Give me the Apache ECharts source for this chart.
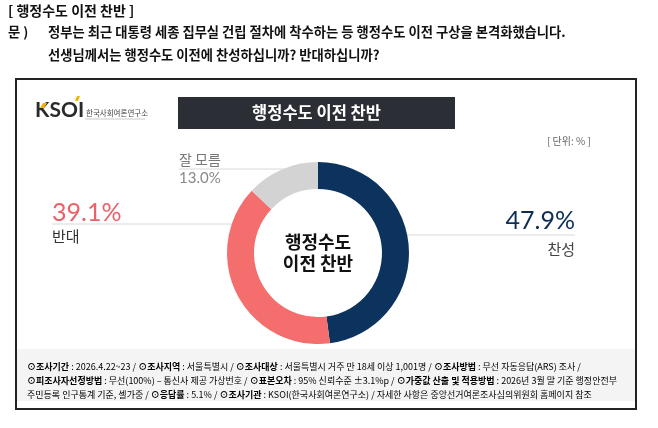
<!DOCTYPE html>
<html><head><meta charset="utf-8">
<script src="https://cdn.jsdelivr.net/npm/echarts@6/dist/echarts.min.js"></script>
<style>html,body{margin:0;padding:0;background:#fff}#c{width:658px;height:428px}</style>
</head><body><div id="c"></div>
<script>
const categories = ['찬성', '반대', '잘 모름'];
const values = [47.9, 39.1, 13.0];
const colors = ['#0c335d', '#f36e6c', '#d3d3d3'];
const chartTitle = '행정수도 이전 찬반';
const centerText = '행정수도\n이전 찬반';
const headTitle = '[ 행정수도 이전 찬반 ]';
const question1 = '정부는 최근 대통령 세종 집무실 건립 절차에 착수하는 등 행정수도 이전 구상을 본격화했습니다.';
const question2 = '선생님께서는 행정수도 이전에 찬성하십니까? 반대하십니까?';
const unitText = '[ 단위: % ]';

const KR = '"Noto Sans CJK KR", "Noto Sans", sans-serif';
const NUM = 'Lato, "Noto Sans", sans-serif';
const CX = 318, CY = 253, R0 = 64, R1 = 91;

// label anchor layout (position only)
const labelPos = [
  { x: 575, y: 235, align: 'right', line: [CX + Math.sqrt(R1*R1 - 18*18) - 2, 575] },
  { x: 52, y: 224, align: 'left', line: [52, CX - Math.sqrt(R1*R1 - 29*29) + 2] },
  { x: 179, y: 169, align: 'left', line: [179, CX - Math.sqrt(R1*R1 - 84*84) + 2] }
];

function fmtLabel(p) {
  const v = values[p.dataIndex].toFixed(1) + '%';
  const n = categories[p.dataIndex];
  if (p.dataIndex === 2) return '{n2|' + n + '}\n{v2|' + v + '}';
  return '{v' + p.dataIndex + '|' + v + '}\n{n' + p.dataIndex + '|' + n + '}';
}

const footRich = {
  b: { fontFamily: KR, fontSize: 9, fontWeight: 'bold', color: '#555', lineHeight: 14 },
  t: { fontFamily: KR, fontSize: 9, color: '#777', lineHeight: 14 },
  l: { fontFamily: KR, fontSize: 9, color: '#999', lineHeight: 14 }
};
const footText =
  '{b|⊙조사기간}{t| : 2026.4.22~23 / }{b|⊙조사지역}{t| : 서울특별시 / }{b|⊙조사대상}{t| : 서울특별시 거주 만 18세 이상 1,001명 / }{b|⊙조사방법}{t| : 무선 자동응답(ARS) 조사 /}\n' +
  '{b|⊙피조사자선정방법}{t| : 무선(100%) – 통신사 제공 가상번호 / }{b|⊙표본오차}{t| : 95% 신뢰수준 ±3.1%p / }{b|⊙가중값 산출 및 적용방법}{t| : 2026년 3월 말 기준 행정안전부}\n' +
  '{t|주민등록 인구통계 기준, 셀가중 / }{b|⊙응답률}{t| : 5.1% / }{b|⊙조사기관}{t| : KSOI(한국사회여론연구소) / }{l|자세한 사항은 중앙선거여론조사심의위원회 홈페이지 참조}';

const chart = echarts.init(document.getElementById('c'), null, { renderer: 'canvas' });
chart.setOption({
  animation: false,
  backgroundColor: '#fff',
  graphic: [
    { type: 'text', left: 8, top: 4, style: { text: headTitle, font: 'bold 14px ' + KR, fill: '#111' } },
    { type: 'text', left: 8, top: 25, style: { text: '문 )', font: 'bold 13.3px ' + KR, fill: '#111' } },
    { type: 'text', left: 48, top: 25, style: { text: question1, font: 'bold 13.3px ' + KR, fill: '#111' } },
    { type: 'text', left: 48, top: 48, style: { text: question2, font: 'bold 13.3px ' + KR, fill: '#111' } },
    { type: 'rect', z: 0, shape: { x: 16, y: 79, width: 620, height: 330 }, style: { fill: '#fff', stroke: '#222', lineWidth: 2 } },
    { type: 'rect', z: 1, shape: { x: 17, y: 349, width: 618, height: 52 }, style: { fill: '#f4f4f4' } },
    { type: 'text', z: 2, x: 27, y: 360, style: { text: footText, rich: footRich } },
    { type: 'rect', z: 2, shape: { x: 178, y: 97, width: 277, height: 32 }, style: { fill: '#2b2f35' } },
    { type: 'text', z: 3, x: 316.5, y: 113, style: { text: chartTitle, font: 'bold 16.5px ' + KR, fill: '#fff', align: 'center', verticalAlign: 'middle' } },
    { type: 'text', z: 3, x: 35, y: 110, style: { text: 'KSOI', font: 'bold 21px ' + NUM, fill: '#2a2a2a', verticalAlign: 'middle' } },
    { type: 'polygon', z: 4, shape: { points: [[77, 96], [80, 96], [78, 101], [75, 101]] }, style: { fill: '#f2b705' } },
    { type: 'polygon', z: 4, shape: { points: [[43, 103], [47, 103], [44, 108], [40, 108]] }, style: { fill: '#f2b705' } },
    { type: 'text', z: 3, x: 86, y: 113, style: { text: '한국사회여론연구소', font: '7.5px ' + KR, fill: '#444', verticalAlign: 'middle' } },
    { type: 'line', z: 3, shape: { x1: 85, y1: 119, x2: 145, y2: 119 }, style: { stroke: '#bbb', lineWidth: 0.8 } },
    { type: 'text', z: 3, x: 547, y: 141, style: { text: unitText, font: '10px ' + KR, fill: '#666', verticalAlign: 'middle' } },
    { type: 'text', z: 10, x: CX, y: CY, style: { text: centerText, font: 'bold 18px ' + KR, fill: '#111', align: 'center', verticalAlign: 'middle', lineHeight: 21 } }
  ],
  series: [{
    type: 'pie',
    z: 5,
    center: [CX, CY],
    radius: [R0, R1],
    startAngle: 90,
    clockwise: true,
    silent: true,
    data: categories.map((c, i) => ({ name: c, value: values[i], itemStyle: { color: colors[i] } })),
    label: {
      show: true,
      position: 'outside',
      formatter: fmtLabel,
      rich: {
        v0: { fontFamily: NUM, fontSize: 25, color: '#0c2e54', lineHeight: 28 },
        n0: { fontFamily: KR, fontSize: 15, color: '#444', lineHeight: 28 },
        v1: { fontFamily: NUM, fontSize: 25, color: '#e8626a', lineHeight: 25 },
        n1: { fontFamily: KR, fontSize: 15, color: '#333', lineHeight: 23 },
        n2: { fontFamily: KR, fontSize: 14, color: '#777', lineHeight: 19 },
        v2: { fontFamily: NUM, fontSize: 15, color: '#888', lineHeight: 19 }
      }
    },
    labelLine: { show: true, lineStyle: { color: '#d8d8d8', width: 1 } },
    labelLayout: function (p) {
      const L = labelPos[p.dataIndex];
      const a = L.line[0], b = L.line[1];
      return {
        x: L.x, y: L.y, align: L.align, verticalAlign: 'middle',
        labelLinePoints: [[b, L.y], [(a + b) / 2, L.y], [a, L.y]]
      };
    }
  }]
});
</script></body></html>
